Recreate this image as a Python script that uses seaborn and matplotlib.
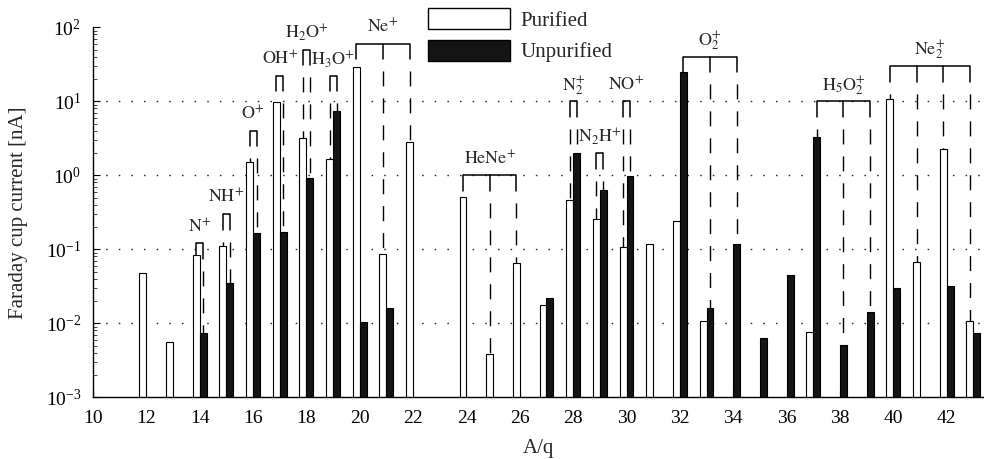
import numpy as np
import pandas as pd
import matplotlib
matplotlib.use("Agg")
import matplotlib.pyplot as plt
from matplotlib.patches import Patch
from matplotlib.ticker import NullFormatter
import seaborn as sns

nan = np.nan

# A/q positions and Faraday cup currents [nA]
mass = list(range(12, 44))
purified = [0.048, 0.0056, 0.084, 0.11, 1.53, 9.9, 3.16, 1.64, 29.4, 0.086,
            2.85, nan, 0.51, 0.0038, 0.065, 0.0179, 0.47, 0.256, 0.106, 0.118,
            0.24, 0.0108, nan, nan, nan, 0.0077, nan, nan, 10.6, 0.067,
            2.27, 0.0107]
unpurified = [nan, nan, 0.0075, 0.035, 0.164, 0.173, 0.93, 7.5, 0.0103, 0.016,
              nan, nan, nan, nan, nan, 0.0218, 1.98, 0.63, 0.98, nan,
              25.0, 0.0163, 0.117, 0.0064, 0.045, 3.26, 0.0051, 0.0144, 0.030, nan,
              0.032, 0.0073]

# ion labels: text, bracket height, members (A/q, sample)
ion_labels = [r"$\mathrm{N}^{+}$", r"$\mathrm{NH}^{+}$", r"$\mathrm{O}^{+}$",
              r"$\mathrm{OH}^{+}$", r"$\mathrm{H}_{2}\mathrm{O}^{+}$",
              r"$\mathrm{H}_{3}\mathrm{O}^{+}$", r"$\mathrm{Ne}^{+}$",
              r"$\mathrm{HeNe}^{+}$", r"$\mathrm{N}_{2}^{+}$",
              r"$\mathrm{N}_{2}\mathrm{H}^{+}$", r"$\mathrm{NO}^{+}$",
              r"$\mathrm{O}_{2}^{+}$", r"$\mathrm{H}_{5}\mathrm{O}_{2}^{+}$",
              r"$\mathrm{Ne}_{2}^{+}$"]
ion_bracket = [0.12, 0.3, 4.0, 22, 50, 22, 60, 1.0, 10, 2.0, 10, 40, 10, 30]
ion_members = [
    [(14, 0), (14, 1)], [(15, 0), (15, 1)], [(16, 0), (16, 1)], [(17, 0), (17, 1)],
    [(18, 0), (18, 1)], [(19, 0), (19, 1)],
    [(20, 0), (21, 0), (22, 0)], [(24, 0), (25, 0), (26, 0)],
    [(28, 0), (28, 1)], [(29, 0), (29, 1)], [(30, 0), (30, 1)],
    [(32, 1), (33, 1), (34, 1)], [(37, 1), (38, 1), (39, 1)],
    [(40, 0), (41, 0), (42, 0), (43, 0)],
]

samples = ["Purified", "Unpurified"]
df = pd.DataFrame({
    "A/q": mass * 2,
    "current": purified + unpurified,
    "sample": [samples[0]] * len(mass) + [samples[1]] * len(mass),
}).dropna()

sns.set_style("ticks")
plt.rcParams["font.family"] = ["Liberation Serif", "DejaVu Serif"]
plt.rcParams["mathtext.fontset"] = "stix"

fig = plt.figure(figsize=(9.84, 4.59), dpi=100)
ax = fig.add_axes([0.0945, 0.1344, 0.9055, 0.8061])

sns.barplot(data=df, x="A/q", y="current", hue="sample", hue_order=samples,
            native_scale=True, log_scale=(False, True), width=0.52,
            palette={"Purified": "white", "Unpurified": "#141414"},
            saturation=1, edgecolor="black", linewidth=0.8,
            errorbar=None, legend=False, ax=ax)

# bars start from below the axis floor so the log scale draws them whole
bars = {}
for i, cont in enumerate(ax.containers):
    for p in cont.patches:
        top = p.get_y() + p.get_height()
        p.set_y(1e-4)
        p.set_height(top - 1e-4)
        cx = p.get_x() + p.get_width() / 2
        bars[(int(round(cx)), i)] = (cx, top)

ax.set_xlim(10, 43.4)
ax.set_ylim(1e-3, 1e2)
ax.set_xticks(range(10, 43, 2))
ax.set_yticks([1e-3, 1e-2, 1e-1, 1e0, 1e1, 1e2])
ax.yaxis.set_minor_formatter(NullFormatter())
ax.tick_params(axis="both", which="major", direction="in", length=5, width=0.8,
               labelsize=14, color="black", labelcolor="black")
ax.tick_params(axis="x", which="major", pad=9)
ax.tick_params(axis="y", which="major", pad=8.5)
ax.tick_params(axis="y", which="minor", direction="in", length=3, width=0.6)
sns.despine(ax=ax)
for sp in ["left", "bottom"]:
    ax.spines[sp].set_linewidth(1.0)
    ax.spines[sp].set_color("black")

# dotted grid lines at inner decades
yt = ax.get_yticks()
ax.hlines(yt[1:-1], 0, 1, transform=ax.get_yaxis_transform(), colors="0.15",
          linewidth=1.0, linestyles=[(0, (1.1, 8))], zorder=0.5)

ax.set_xlabel("A/q", fontsize=15, labelpad=9)
ax.set_ylabel("Faraday cup current [nA]", fontsize=15, labelpad=13)

leg = 10 ** (15.5 / 74)
for text, yb, members in zip(ion_labels, ion_bracket, ion_members):
    pts = [bars[m] for m in members if m in bars]
    xs = [p[0] for p in pts]
    ax.plot([xs[0], xs[-1]], [yb, yb], color="black", lw=1.1, zorder=4,
            solid_capstyle="butt")
    for cx, top in pts:
        ax.plot([cx, cx], [yb, max(yb / leg, top)], color="black", lw=1.1, zorder=4)
        if top < yb / leg:
            ax.plot([cx, cx], [yb / leg, top], color="black", lw=1.0, zorder=4,
                    linestyle=(10.8, (10.8, 8.6)))
    ax.annotate(text, xy=(np.mean(xs), yb), xytext=(0, 8), textcoords="offset points",
                ha="center", va="baseline", fontsize=13, annotation_clip=False)

ax.legend(handles=[Patch(facecolor="white", edgecolor="black", linewidth=1.0),
                   Patch(facecolor="#141414", edgecolor="black", linewidth=1.0)],
          labels=samples, loc="upper left",
          bbox_to_anchor=(428 / 984, 1 - 8 / 459), bbox_transform=fig.transFigure,
          frameon=False, fontsize=15, handlelength=3.94, handleheight=1.2,
          labelspacing=0.43, handletextpad=0.48, borderpad=0, borderaxespad=0)

fig.savefig("out.png", dpi=100, facecolor="white")
